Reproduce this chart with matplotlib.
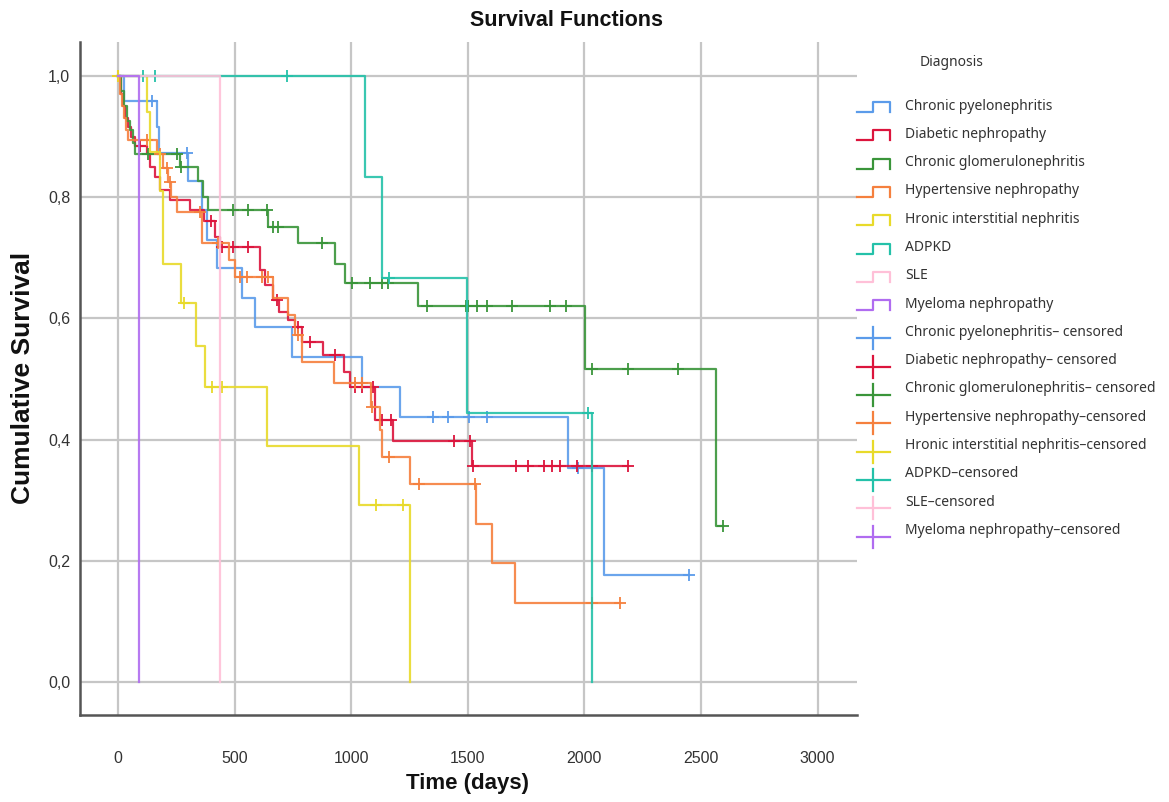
import numpy as np
import matplotlib
matplotlib.use('Agg')
import matplotlib.pyplot as plt
from matplotlib.ticker import FuncFormatter

# Kaplan-Meier curves (time in days, cumulative survival)

# Chronic pyelonephritis
cp_t = [0, 26, 167, 176, 300, 360, 382, 425, 532, 587, 746, 1046, 1209, 1930, 2084]
cp_s = [1.0, 0.958, 0.916, 0.873, 0.826, 0.779, 0.729, 0.683, 0.634, 0.585, 0.537, 0.487, 0.438, 0.353, 0.177]
cp_c = [146, 296, 1351, 1415, 1505, 1582, 1973, 2449]

# Diabetic nephropathy
dn_t = [0, 13, 21, 30, 43, 56, 73, 124, 137, 159, 180, 223, 309, 369, 416, 437, 609, 630, 665, 690,
        729, 759, 789, 879, 969, 995, 1102, 1179, 1518]
dn_s = [1.0, 0.97, 0.95, 0.93, 0.915, 0.90, 0.885, 0.872, 0.85, 0.834, 0.812, 0.795, 0.779, 0.760, 0.735,
        0.718, 0.680, 0.655, 0.630, 0.611, 0.598, 0.586, 0.561, 0.540, 0.512, 0.487, 0.432, 0.397, 0.357]
dn_c = [94, 399, 446, 493, 557, 682, 772, 823, 930, 1016, 1046, 1093, 1132, 1172, 1441, 1509, 1524,
        1707, 1758, 1827, 1861, 1895, 1968, 2033, 2187]

# Chronic glomerulonephritis
cg_t = [0, 13, 26, 39, 51, 64, 73, 266, 343, 365, 386, 645, 772, 930, 973, 1286, 2003, 2564]
cg_s = [1.0, 0.975, 0.95, 0.925, 0.91, 0.89, 0.872, 0.850, 0.826, 0.80, 0.779, 0.751, 0.724, 0.690,
        0.658, 0.620, 0.516, 0.258]
cg_c = [129, 253, 272, 493, 557, 639, 665, 686, 875, 1003, 1081, 1132, 1158, 1325, 1492, 1501, 1539,
        1582, 1690, 1852, 1921, 2033, 2187, 2401, 2594]

# Hypertensive nephropathy
hn_t = [0, 9, 17, 26, 34, 43, 167, 193, 214, 227, 253, 360, 476, 502, 665, 729, 759, 789, 926, 1087,
        1123, 1132, 1252, 1535, 1604, 1702]
hn_s = [1.0, 0.97, 0.95, 0.93, 0.91, 0.894, 0.872, 0.848, 0.825, 0.80, 0.775, 0.724, 0.696, 0.668,
        0.634, 0.606, 0.573, 0.528, 0.494, 0.454, 0.416, 0.372, 0.326, 0.261, 0.196, 0.131]
hn_c = [0, 124, 180, 210, 223, 352, 429, 523, 553, 617, 643, 772, 1016, 1046, 1089, 1162, 1291, 1531,
        2033, 2153]

# Hronic interstitial nephritis
hin_t = [0, 123, 137, 180, 193, 270, 334, 373, 639, 1033, 1250]
hin_s = [1.0, 0.94, 0.875, 0.81, 0.69, 0.625, 0.555, 0.487, 0.39, 0.292, 0.0]
hin_c = [0, 283, 403, 446, 1106, 1222]

# ADPKD
adpkd_t = [0, 1059, 1131, 1495, 2031]
adpkd_s = [1.0, 0.833, 0.667, 0.444, 0.0]
adpkd_c = [107, 159, 725, 1163, 2014]

# SLE
sle_t = [0, 437]
sle_s = [1.0, 0.0]
sle_c = []

# Myeloma nephropathy
mn_t = [0, 92]
mn_s = [1.0, 0.0]
mn_c = []

names = ['Chronic pyelonephritis', 'Diabetic nephropathy', 'Chronic glomerulonephritis',
         'Hypertensive nephropathy', 'Hronic interstitial nephritis', 'ADPKD', 'SLE',
         'Myeloma nephropathy']
censored_names = ['Chronic pyelonephritis\u2013 censored', 'Diabetic nephropathy\u2013 censored',
                  'Chronic glomerulonephritis\u2013 censored', 'Hypertensive nephropathy\u2013censored',
                  'Hronic interstitial nephritis\u2013censored', 'ADPKD\u2013censored', 'SLE\u2013censored',
                  'Myeloma nephropathy\u2013censored']
colors = ['#5b9bea', '#dc143c', '#3a953a', '#f5803e', '#e8da2a', '#24c1a9', '#ffc0d8', '#b06cf0']

series = [(cp_t, cp_s, cp_c), (dn_t, dn_s, dn_c), (cg_t, cg_s, cg_c), (hn_t, hn_s, hn_c),
          (hin_t, hin_s, hin_c), (adpkd_t, adpkd_s, adpkd_c), (sle_t, sle_s, sle_c), (mn_t, mn_s, mn_c)]

FONT = ['Liberation Sans', 'DejaVu Sans']

fig = plt.figure(figsize=(11.69, 8.02), dpi=100)
W, H = 1169.0, 802.0
ax = fig.add_axes([80 / W, 87 / H, (857 - 80) / W, (715 - 42) / H])

for (t, s, c), col in zip(series, colors):
    tt, ss = list(t), list(s)
    if c and max(c) > tt[-1] and ss[-1] > 0:
        tt.append(max(c))
        ss.append(ss[-1])
    ax.step(tt, ss, where='post', color=col, lw=1.6, alpha=0.9)
    if c:
        lev = np.array(s)[np.searchsorted(t, c, side='right') - 1]
        ax.plot(c, lev, '+', color=col, ms=9, mew=1.3, ls='none')

ax.set_xlim(-163, 3169)
ax.set_ylim(-0.0545, 1.056)
ax.set_xticks([0, 500, 1000, 1500, 2000, 2500, 3000])
ax.set_yticks([0, 0.2, 0.4, 0.6, 0.8, 1.0])
ax.yaxis.set_major_formatter(FuncFormatter(lambda v, p: ('%.1f' % v).replace('.', ',')))
ax.grid(True, color='#c6c6c6', lw=1.6)
ax.set_axisbelow(True)
for sp in ['top', 'right']:
    ax.spines[sp].set_visible(False)
for sp in ['left', 'bottom']:
    ax.spines[sp].set_color('#555555')
    ax.spines[sp].set_linewidth(1.8)
ax.tick_params(length=0, labelsize=11.5, colors='#333333')
ax.tick_params(axis='x', pad=26)
ax.tick_params(axis='y', pad=7)
for lab in ax.get_xticklabels() + ax.get_yticklabels():
    lab.set_family(FONT)

fig.text(567 / W, 1 - 20 / H, 'Survival Functions', ha='center', va='center',
         fontsize=15.5, fontweight='bold', family=FONT, color='#111111')
fig.text(467 / W, 1 - 784 / H, 'Time (days)', ha='center', va='center',
         fontsize=16, fontweight='bold', family=FONT, color='#111111')
fig.text(23 / W, 1 - 378 / H, 'Cumulative Survival', ha='center', va='center', rotation=90,
         fontsize=19, fontweight='bold', family=FONT, color='#111111')

# legend drawn in pixel space on an overlay
lg = fig.add_axes([0, 0, 1, 1], zorder=5)
lg.set_xlim(0, W)
lg.set_ylim(H, 0)
lg.axis('off')
lg.patch.set_alpha(0)

leg_font = 'Noto Sans'
lg.text(920, 62, 'Diagnosis', ha='left', va='center', fontsize=10, family=leg_font, color='#333333')
row_y = 106 + 28.3 * np.arange(16)
for i, col in enumerate(colors):
    y = row_y[i]
    lg.plot([857, 873, 873, 890, 890], [y + 6, y + 6, y - 4, y - 4, y + 6], color=col, lw=1.6)
    lg.text(905, y, names[i], ha='left', va='center', fontsize=10, family=leg_font, color='#333333')
for i, col in enumerate(colors):
    y = row_y[8 + i]
    lg.plot([857, 890], [y + 6, y + 6], color=col, lw=1.6)
    lg.plot([873, 873], [y - 5, y + 17], color=col, lw=1.6)
    lg.text(905, y, censored_names[i], ha='left', va='center', fontsize=10, family=leg_font,
            color='#333333')

fig.savefig('out.png', dpi=100)
